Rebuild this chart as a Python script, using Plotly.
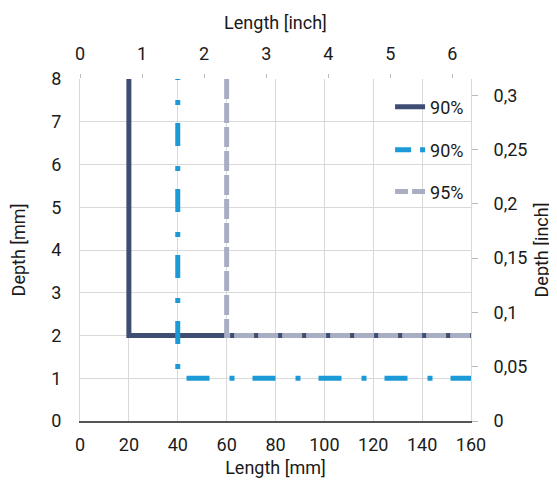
import plotly.graph_objects as go

# data
s1_x = [20, 20, 160]
s1_y = [8, 2, 2]
s2_x = [40, 40, 160]
s2_y = [8, 1, 1]
s3_x = [60, 60, 160]
s3_y = [8, 2, 2]
names = ["90%", "90%", "95%"]
colors = ["#3f4d72", "#1b9ad7", "#a9aec3"]

inch_ticks = [0, 1, 2, 3, 4, 5, 6]
depth_inch_vals = [0, 0.05, 0.1, 0.15, 0.2, 0.25, 0.3]
depth_inch_text = ["0", "0,05", "0,1", "0,15", "0,2", "0,25", "0,3"]

MM_PER_INCH = 25.4
X_MAX = 160
Y_MAX = 8

font_family = "Roboto, 'DejaVu Sans', sans-serif"
grid = "#d9d9d9"
txt = "#1a1a1a"
FS = 18

# line styles (plot and legend sample)
dash_plot = [None, "1px,20px,5px,18px,22px,0px", "20px,4px"]
dash_leg = [None, "16px,9px,5px,20px", "13px,4px"]
legends = ["legend", "legend2", "legend3"]
series = [(s1_x, s1_y), (s2_x, s2_y), (s3_x, s3_y)]

fig = go.Figure()
for i, (xs, ys) in enumerate(series):
    fig.add_trace(go.Scatter(x=xs, y=ys, mode="lines", name=names[i], showlegend=False,
                             line=dict(color=colors[i], width=5, dash=dash_plot[i])))
for i in range(3):
    # legend-only entry (no marks drawn)
    fig.add_trace(go.Scatter(x=[None], y=[None], mode="lines", name=names[i],
                             legend=legends[i], showlegend=True, hoverinfo="skip",
                             line=dict(color=colors[i], width=5, dash=dash_leg[i])))
# invisible trace to activate the secondary axes
fig.add_trace(go.Scatter(x=[0], y=[0], xaxis="x2", yaxis="y2", mode="markers",
                         marker=dict(opacity=0), showlegend=False, hoverinfo="skip"))

tickfont = dict(family=font_family, size=FS, color=txt)
titlefont = dict(family=font_family, size=FS, color=txt)

leg_common = dict(xanchor="left", yanchor="middle", bgcolor="rgba(0,0,0,0)",
                  font=dict(family=font_family, size=FS, color=txt))

fig.update_layout(
    width=549, height=477,
    margin=dict(l=72, r=86, t=71, b=64),
    paper_bgcolor="white", plot_bgcolor="white",
    font=dict(family=font_family, size=FS, color=txt),
    xaxis=dict(range=[0, X_MAX], dtick=20, tick0=0, showgrid=True, gridcolor=grid,
               gridwidth=1, showline=True, linecolor="#555555", linewidth=2,
               zeroline=False, ticks="", tickfont=tickfont, automargin=False,
               ticklabelstandoff=6,
               title=dict(text="Length [mm]", font=titlefont, standoff=8)),
    yaxis=dict(range=[0, Y_MAX], dtick=1, tick0=0, showgrid=True, gridcolor=grid,
               gridwidth=1, showline=True, linecolor=grid, linewidth=1,
               zeroline=False, ticks="", tickfont=tickfont, automargin=False,
               ticklabelstandoff=14,
               title=dict(text="Depth [mm]", font=titlefont, standoff=22)),
    xaxis2=dict(range=[0, X_MAX / MM_PER_INCH], overlaying="x", side="top",
                tickvals=inch_ticks, showgrid=False, zeroline=False,
                showline=False, ticks="outside", ticklen=4, tickcolor="#bbbbbb",
                tickfont=tickfont, automargin=False, ticklabelstandoff=7,
                title=dict(text="Length [inch]", font=titlefont, standoff=8)),
    yaxis2=dict(range=[0, Y_MAX / MM_PER_INCH], overlaying="y", side="right",
                tickvals=depth_inch_vals, ticktext=depth_inch_text,
                showgrid=False, zeroline=False, showline=True, linecolor=grid,
                ticks="outside", ticklen=6, tickcolor="#bbbbbb",
                tickfont=tickfont, automargin=False, ticklabelstandoff=12,
                title=dict(text="Depth [inch]", font=titlefont, standoff=8)),
    legend=dict(x=0.793, y=0.918, **leg_common),
    legend2=dict(x=0.793, y=0.792, **leg_common),
    legend3=dict(x=0.793, y=0.670, **leg_common),
    showlegend=True,
)

fig.write_html("out.html")
